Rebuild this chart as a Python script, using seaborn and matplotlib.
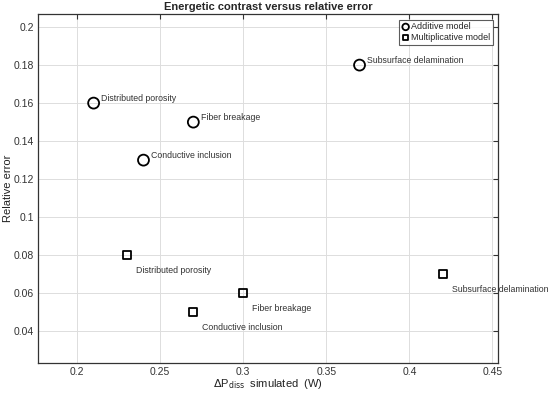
import matplotlib
matplotlib.use("Agg")
import matplotlib.pyplot as plt
import pandas as pd
import seaborn as sns

# Values
defects = ["Distributed porosity", "Fiber breakage", "Conductive inclusion", "Subsurface delamination"]
add_dp = [0.21, 0.27, 0.24, 0.37]
add_err = [0.16, 0.15, 0.13, 0.18]
mult_dp = [0.23, 0.30, 0.27, 0.42]
mult_err = [0.08, 0.06, 0.05, 0.07]

df = pd.concat([
    pd.DataFrame({"dp": add_dp, "err": add_err, "defect": defects, "model": "Additive model"}),
    pd.DataFrame({"dp": mult_dp, "err": mult_err, "defect": defects, "model": "Multiplicative model"}),
], ignore_index=True)

sns.set_style("whitegrid")
plt.rcParams["font.family"] = ["Liberation Sans", "DejaVu Sans"]

fig, ax = plt.subplots(figsize=(5.5, 3.93), dpi=100)
fig.subplots_adjust(left=0.069, right=0.906, top=0.964, bottom=0.076)

for model, marker, size in [("Additive model", "o", 62), ("Multiplicative model", "s", 34)]:
    sub = df[df.model == model]
    sns.scatterplot(data=sub, x="dp", y="err", marker=marker, s=size,
                    facecolor="none", edgecolor="black", linewidth=1.3,
                    label=model, ax=ax, zorder=3)

for _, r in df.iterrows():
    if r.model == "Additive model":
        ax.annotate(r.defect, (r.dp, r.err), xytext=(5.5, 3), textcoords="offset points",
                    fontsize=6.3, color="#333333", va="center")
    else:
        ax.annotate(r.defect, (r.dp, r.err), xytext=(6.5, -11), textcoords="offset points",
                    fontsize=6.3, color="#333333", va="center")

ax.set_xlim(0.1765, 0.4535)
ax.set_ylim(0.0232, 0.2068)
ax.set_xticks([0.2, 0.25, 0.3, 0.35, 0.4, 0.45])
ax.set_xticklabels(["0.2", "0.25", "0.3", "0.35", "0.4", "0.45"])
ax.set_yticks([0.04, 0.06, 0.08, 0.1, 0.12, 0.14, 0.16, 0.18, 0.2])
ax.set_yticklabels(["0.04", "0.06", "0.08", "0.1", "0.12", "0.14", "0.16", "0.18", "0.2"])
ax.tick_params(direction="in", length=3.5, labelsize=7.5, labelcolor="#333333",
               top=True, right=True, color="#333333", pad=3)
ax.grid(True, color="#dddddd", linewidth=0.7)
for sp in ax.spines.values():
    sp.set_color("#333333")
    sp.set_linewidth(0.9)

ax.set_xlabel(r"$\Delta$P$_{\rm diss}$  simulated  (W)", fontsize=8, color="#222222", labelpad=0)
ax.set_ylabel("Relative error", fontsize=8, color="#222222", labelpad=0)
ax.set_title("Energetic contrast versus relative error", fontsize=8, fontweight="bold", pad=3)

leg = ax.legend(loc="upper right", fontsize=6.5, frameon=True, fancybox=False,
                edgecolor="#333333", markerscale=0.6, handletextpad=0.2,
                borderpad=0.3, labelspacing=0.2, handlelength=0.8, borderaxespad=0.6)
leg.get_frame().set_linewidth(0.8)

fig.savefig("out.png", dpi=100)
